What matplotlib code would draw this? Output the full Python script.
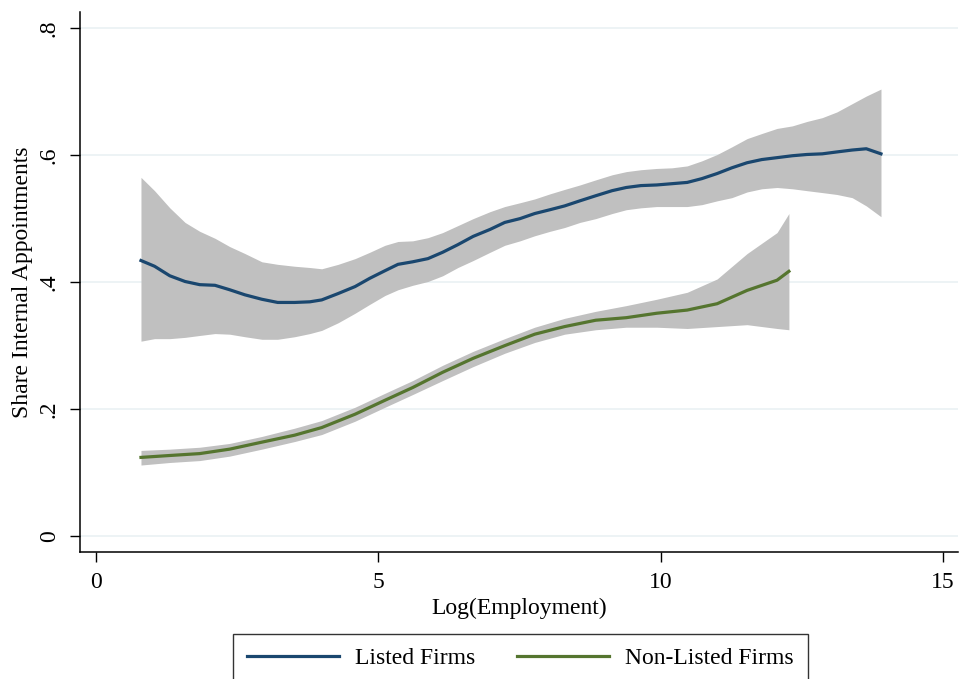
import matplotlib
matplotlib.use("Agg")
import matplotlib.pyplot as plt

plt.rcParams["font.family"] = ["Liberation Serif", "DejaVu Serif"]

NAVY = "#1a476f"
GREEN = "#55752f"
BAND = "#c0c0c0"
GRID = "#eaf1f3"

# Listed firms: smoothed share with 95% band
x_listed = [0.80, 1.04, 1.31, 1.58, 1.84, 2.11, 2.37, 2.64, 2.94, 3.22,
            3.52, 3.79, 4.00, 4.29, 4.59, 4.85, 5.12, 5.35, 5.61, 5.88,
            6.14, 6.41, 6.68, 6.98, 7.24, 7.51, 7.77, 8.04, 8.30, 8.57,
            8.85, 9.14, 9.39, 9.65, 9.93, 10.20, 10.47, 10.73, 11.00, 11.26,
            11.53, 11.79, 12.06, 12.33, 12.59, 12.86, 13.12, 13.39, 13.64, 13.90]
y_listed = [0.434, 0.425, 0.410, 0.401, 0.396, 0.395, 0.388, 0.380, 0.373, 0.368,
            0.368, 0.369, 0.372, 0.382, 0.393, 0.406, 0.418, 0.428, 0.432, 0.437,
            0.447, 0.459, 0.472, 0.483, 0.494, 0.500, 0.508, 0.514, 0.520, 0.528,
            0.536, 0.544, 0.549, 0.552, 0.553, 0.555, 0.557, 0.563, 0.571, 0.580,
            0.588, 0.593, 0.596, 0.599, 0.601, 0.602, 0.605, 0.608, 0.610, 0.602]
hi_listed = [0.565, 0.544, 0.517, 0.494, 0.480, 0.469, 0.456, 0.445, 0.432, 0.428,
             0.425, 0.423, 0.421, 0.428, 0.437, 0.447, 0.458, 0.464, 0.465, 0.470,
             0.478, 0.489, 0.500, 0.511, 0.519, 0.525, 0.531, 0.539, 0.546, 0.553,
             0.561, 0.569, 0.574, 0.577, 0.579, 0.580, 0.583, 0.591, 0.601, 0.613,
             0.626, 0.634, 0.642, 0.646, 0.653, 0.659, 0.668, 0.681, 0.693, 0.704]
lo_listed = [0.307, 0.311, 0.311, 0.313, 0.316, 0.319, 0.318, 0.314, 0.310, 0.310,
             0.314, 0.319, 0.324, 0.336, 0.351, 0.365, 0.379, 0.388, 0.395, 0.401,
             0.410, 0.423, 0.434, 0.447, 0.458, 0.465, 0.473, 0.480, 0.486, 0.494,
             0.500, 0.508, 0.514, 0.517, 0.519, 0.519, 0.519, 0.522, 0.528, 0.533,
             0.542, 0.547, 0.549, 0.547, 0.544, 0.541, 0.538, 0.533, 0.520, 0.503]

# Non-listed firms
x_non = [0.80, 1.31, 1.84, 2.37, 2.94, 3.52, 4.00, 4.59, 5.12, 5.61,
         6.14, 6.68, 7.24, 7.77, 8.30, 8.85, 9.39, 9.93, 10.47, 11.00,
         11.53, 12.06, 12.27]
y_non = [0.124, 0.127, 0.130, 0.137, 0.148, 0.159, 0.171, 0.192, 0.214, 0.234,
         0.258, 0.280, 0.300, 0.318, 0.330, 0.340, 0.344, 0.351, 0.356, 0.366,
         0.387, 0.403, 0.417]
hi_non = [0.135, 0.137, 0.140, 0.146, 0.157, 0.170, 0.182, 0.203, 0.225, 0.245,
          0.269, 0.291, 0.311, 0.329, 0.343, 0.354, 0.363, 0.373, 0.384, 0.405,
          0.445, 0.478, 0.508]
lo_non = [0.112, 0.116, 0.119, 0.126, 0.137, 0.149, 0.160, 0.181, 0.203, 0.223,
          0.245, 0.267, 0.288, 0.305, 0.318, 0.325, 0.329, 0.329, 0.327, 0.330,
          0.333, 0.327, 0.325]

x_ticks = [0, 5, 10, 15]
y_ticks = [0, 0.2, 0.4, 0.6, 0.8]
y_ticklabels = ["0", ".2", ".4", ".6", ".8"]

fig = plt.figure(figsize=(9.6, 6.79), dpi=100, facecolor="white")
ax = fig.add_axes([0.0833, 0.187, 0.915, 0.795])

for y in y_ticks:
    ax.axhline(y, color=GRID, lw=1.2, zorder=0)

ax.fill_between(x_listed, lo_listed, hi_listed, color=BAND, lw=0, zorder=1)
ax.fill_between(x_non, lo_non, hi_non, color=BAND, lw=0, zorder=1)
ax.plot(x_listed, y_listed, color=NAVY, lw=2.3, zorder=3, label="Listed Firms")
ax.plot(x_non, y_non, color=GREEN, lw=2.3, zorder=3, label="Non-Listed Firms")

ax.set_xlim(-0.28, 15.27)
ax.set_ylim(-0.025, 0.825)
ax.set_xticks(x_ticks)
ax.set_yticks(y_ticks)
ax.set_yticklabels(y_ticklabels, rotation=90, va="center")
ax.tick_params(axis="both", direction="out", length=7.5, width=1, labelsize=17, pad=7)

for side in ("top", "right"):
    ax.spines[side].set_visible(False)
for side in ("left", "bottom"):
    ax.spines[side].set_linewidth(1.1)

ax.set_xlabel("Log(Employment)", fontsize=17, labelpad=3)
ax.set_ylabel("Share Internal Appointments", fontsize=17, labelpad=4)

fig.legend(loc="upper center", bbox_to_anchor=(0.542, 0.067), ncol=2,
           fontsize=17, frameon=True, fancybox=False, edgecolor="black",
           handlelength=3.9, handletextpad=0.65, columnspacing=1.8,
           borderpad=0.6, borderaxespad=0)

fig.savefig("out.png", dpi=100, facecolor="white")
